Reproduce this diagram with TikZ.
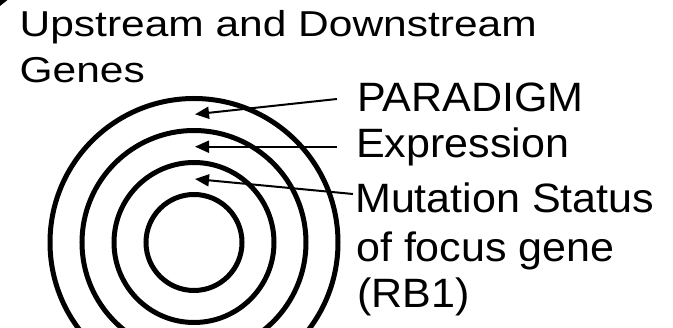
\documentclass[tikz,border=0pt]{standalone}
\usepackage{fontspec}
\setmainfont{Liberation Sans}
\usetikzlibrary{arrows.meta}
\newcommand{\wideR}[1]{\scalebox{1.05}[1]{#1}}
\newcommand{\wideL}[1]{\scalebox{1.18}[1]{#1}}
\begin{document}
\begin{tikzpicture}[x=1pt,y=-1pt,
  ring/.style={draw, line width=5pt, circle, inner sep=0pt},
  lbl/.style={anchor=base west, inner sep=0pt, font=\fontsize{41}{49}\selectfont},
  lblL/.style={anchor=base west, inner sep=0pt, font=\fontsize{36}{44}\selectfont},
  ptr/.style={line width=2pt, -{Triangle[length=14pt,width=12pt]}}]
\useasboundingbox (0,0) rectangle (673,328);
\fill (0,0) -- (7.5,0) -- (0,6) -- cycle;
% rings
\node[ring, minimum size=96pt]  (c1) at (194,242.5) {};
\node[ring, minimum size=160pt] (c2) at (194,242.5) {};
\node[ring, minimum size=224pt] (c3) at (194,242.5) {};
\node[ring, minimum size=288pt] (c4) at (194,242.5) {};
% labels
\node[lblL] (up) at (19.5,37) {\wideL{Upstream and Downstream}};
\node[lblL] (ge) at (19.5,83) {\wideL{Genes}};
\node[lbl] (pa) at (357,112) {\wideR{PARADIGM}};
\node[lbl] (ex) at (356,158) {\wideR{Expression}};
\node[lbl] (mu) at (355,213) {\wideR{Mutation Status}};
\node[lbl] (of) at (356,262) {\wideR{of focus gene}};
\node[lbl] (rb) at (357,308) {\wideR{(RB1)}};
% pointers
\coordinate (a1s) at (337,99);   \coordinate (a1e) at (195,114.3);
\coordinate (a2s) at (337,146.7); \coordinate (a2e) at (195,146.7);
\coordinate (a3s) at (353,194);  \coordinate (a3e) at (195,179);
\draw[ptr] (a1s) -- (a1e);
\draw[ptr] (a2s) -- (a2e);
\draw[ptr] (a3s) -- (a3e);
\end{tikzpicture}
\end{document}
